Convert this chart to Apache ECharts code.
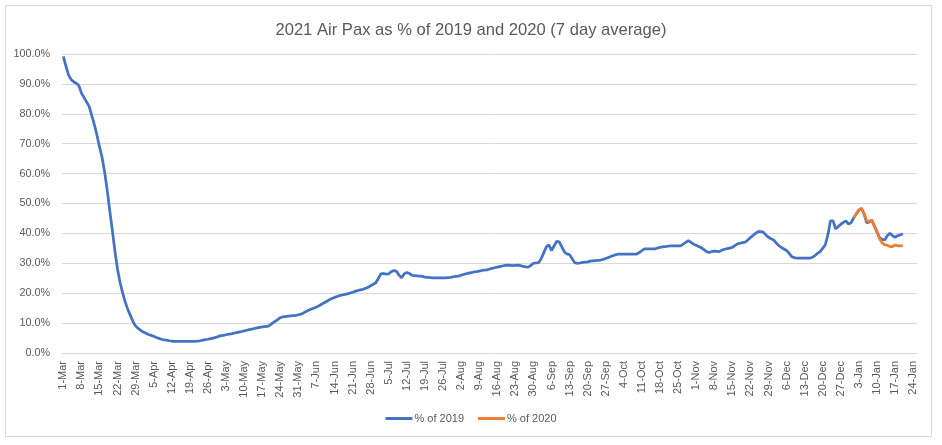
<!DOCTYPE html>
<html>
<head>
<meta charset="utf-8">
<script src="https://cdn.jsdelivr.net/npm/echarts@6/dist/echarts.min.js"></script>
<style>
html,body{margin:0;padding:0;background:#fff;}
#frame{position:absolute;left:5px;top:5px;width:927px;height:432px;border:1px solid #d9d9d9;box-sizing:border-box;}
#chart{position:absolute;left:0;top:0;width:942px;height:445px;}
</style>
</head>
<body>
<div id="frame"></div>
<div id="chart"></div>
<script>
const titleText = '2021 Air Pax as % of 2019 and 2020 (7 day average)';
const monthNames = ['Mar','Apr','May','Jun','Jul','Aug','Sep','Oct','Nov','Dec','Jan'];
const monthDays  = [31,30,31,30,31,31,30,31,30,31,25];
const seriesNames = ['% of 2019', '% of 2020'];
const yTicks = [0,10,20,30,40,50,60,70,80,90,100];

// % of 2019, daily from 1-Mar
const pct2019 = [
99.2,96.0,93.0,91.5,90.7,90.2,89.5,87.0,85.5,84.0,
82.5,79.5,76.5,73.0,69.0,65.5,60.5,54.5,47.5,41.0,
34.0,28.0,23.5,20.0,17.0,14.5,12.5,10.5,9.0,8.2,
7.6,7.0,6.6,6.2,5.9,5.6,5.2,4.9,4.6,4.4,
4.3,4.1,4.0,3.9,3.9,3.9,3.9,3.9,3.9,3.9,
3.9,3.9,4.0,4.1,4.3,4.5,4.6,4.8,5.0,5.2,
5.5,5.8,5.9,6.1,6.3,6.4,6.6,6.8,7.0,7.2,
7.4,7.6,7.8,8.0,8.2,8.4,8.6,8.7,8.8,8.9,
9.3,10.0,10.6,11.2,11.8,12.1,12.2,12.3,12.4,12.5,
12.6,12.8,13.0,13.4,13.9,14.3,14.7,15.0,15.4,15.8,
16.3,16.8,17.3,17.8,18.2,18.6,18.9,19.2,19.4,19.6,
19.8,20.0,20.3,20.6,20.9,21.1,21.3,21.6,22.0,22.5,
23.0,23.5,25.0,26.5,26.6,26.4,26.5,27.2,27.6,27.3,
26.0,25.2,26.5,26.9,26.6,26.0,25.9,25.8,25.7,25.6,
25.4,25.3,25.2,25.1,25.1,25.1,25.1,25.1,25.1,25.2,
25.3,25.5,25.6,25.7,26.0,26.3,26.5,26.7,26.9,27.1,
27.2,27.4,27.6,27.7,27.8,28.1,28.3,28.5,28.7,28.9,
29.1,29.3,29.4,29.3,29.2,29.3,29.4,29.2,29.0,28.8,
28.7,29.3,30.0,30.1,30.2,31.5,33.5,35.5,36.2,34.3,
35.8,37.3,37.2,35.5,33.8,33.1,32.9,31.5,30.2,30.0,
30.1,30.3,30.4,30.5,30.7,30.8,30.9,31.0,31.1,31.3,
31.6,31.9,32.3,32.6,32.9,33.1,33.1,33.1,33.1,33.1,
33.1,33.1,33.1,33.6,34.2,34.8,34.8,34.8,34.8,34.8,
35.1,35.3,35.5,35.6,35.7,35.8,35.8,35.8,35.8,35.8,
36.4,37.0,37.6,37.0,36.4,36.0,35.6,35.2,34.6,33.9,
33.6,33.9,34.1,34.0,33.9,34.4,34.7,34.9,35.1,35.3,
35.9,36.5,36.7,36.9,37.1,37.8,38.6,39.3,40.0,40.6,
40.6,40.4,39.5,38.7,38.2,37.8,36.8,35.9,35.3,34.8,
34.3,33.3,32.2,31.9,31.7,31.7,31.7,31.7,31.7,31.7,
32.0,32.6,33.3,33.9,35.0,36.2,39.5,44.2,44.2,41.5,
42.3,43.0,43.7,44.2,43.1,43.6,45.2,46.5,47.8,48.4,
46.5,43.6,43.8,44.5,42.5,40.6,38.6,38.0,37.8,39.2,
40.1,39.2,38.7,39.2,39.5,39.9
];

// % of 2020, daily from 1-Jan
const start2020 = '1-Jan';
const pct2020 = [
45.2,46.6,47.8,48.4,46.8,44.2,44.0,44.5,42.4,40.4,
38.3,36.8,36.2,36.0,35.6,35.6,36.1,35.9,35.8,35.8
];

// build categories
const categories = [];
monthNames.forEach((m, i) => {
  for (let d = 1; d <= monthDays[i]; d++) categories.push(d + '-' + m);
});
const off = categories.indexOf(start2020);
const data2020 = categories.map((c, i) => (i >= off && i - off < pct2020.length) ? pct2020[i - off] : null);

const chart = echarts.init(document.getElementById('chart'), null, {renderer: 'canvas'});
const font = 'Liberation Sans, Arial, sans-serif';
chart.setOption({
  animation: false,
  title: {
    text: titleText,
    left: 'center',
    top: 17,
    textStyle: {fontFamily: font, fontSize: 16.6, fontWeight: 'normal', color: '#595959'}
  },
  legend: {
    data: seriesNames,
    bottom: 16,
    left: 'center',
    itemWidth: 27,
    itemHeight: 3,
    itemGap: 14,
    icon: 'rect',
    textStyle: {fontFamily: font, fontSize: 11, color: '#595959', padding: [0,0,0,-3]}
  },
  grid: {left: 62, right: 25, top: 54, bottom: 92, containLabel: false},
  xAxis: {
    type: 'category',
    data: categories,
    boundaryGap: true,
    axisLine: {lineStyle: {color: '#d9d9d9'}},
    axisTick: {show: false},
    axisLabel: {interval: 6, rotate: 90, fontFamily: font, fontSize: 11, color: '#595959', margin: 8}
  },
  yAxis: {
    type: 'value',
    min: yTicks[0],
    max: yTicks[yTicks.length - 1],
    interval: yTicks[1] - yTicks[0],
    axisLine: {show: false},
    axisTick: {show: false},
    splitLine: {lineStyle: {color: '#d9d9d9'}},
    axisLabel: {formatter: v => v.toFixed(1) + '%', fontFamily: font, fontSize: 10.8, color: '#595959', margin: 12}
  },
  series: [
    {name: seriesNames[0], type: 'line', data: pct2019, showSymbol: false, symbol: 'none',
     lineStyle: {color: '#4472C4', width: 2.75}, itemStyle: {color: '#4472C4'}},
    {name: seriesNames[1], type: 'line', data: data2020, showSymbol: false, symbol: 'none',
     lineStyle: {color: '#ED7D31', width: 2.75}, itemStyle: {color: '#ED7D31'}}
  ]
});
</script>
</body>
</html>
